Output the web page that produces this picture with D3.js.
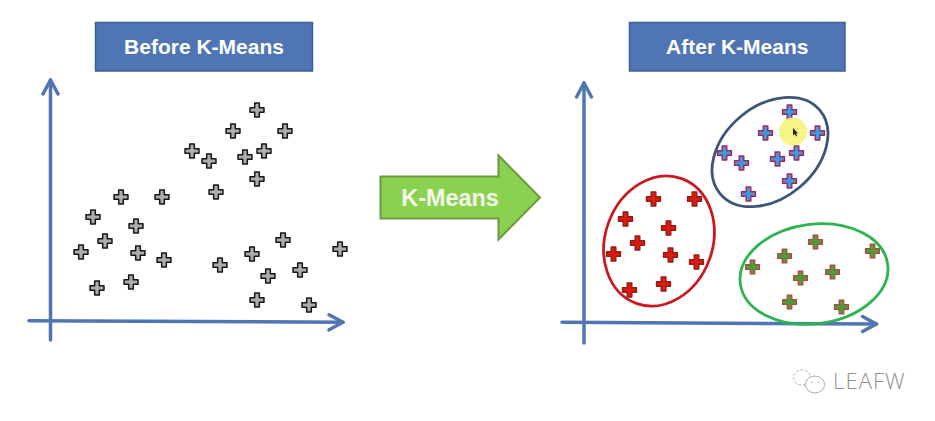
<!DOCTYPE html>
<html>
<head>
<meta charset="utf-8">
<script src="https://cdn.jsdelivr.net/npm/d3@7"></script>
<style>
  html, body { margin: 0; background: #fff; }
  svg { display: block; }
  text { font-family: "Liberation Sans", Arial, sans-serif; }
</style>
</head>
<body>
<svg id="chart" width="935" height="421"></svg>
<script>
const redPoints = [[71, 124], [112, 124], [43, 104], [86, 95], [55, 80], [31, 69], [88, 68], [114, 61], [47, 33], [81, 39]];
const bluePoints = [[207, 211], [183, 190], [235, 190], [142, 170], [159, 160], [195, 164], [214, 170], [207, 142], [166, 129]];
const greenPoints = [[170, 56], [202, 67], [233, 81], [290, 72], [250, 51], [218, 45], [207, 21], [259, 16]];

const beforeTitle = 'Before K-Means';
const afterTitle = 'After K-Means';
const arrowLabel = 'K-Means';

// ellipses: centre and semi axes in the same units, rotation in degrees
const redCluster = { cx: 76.5, cy: 82, a: 53.7, b: 66.4, angle: 20 };
const blueCluster = { cx: 187.5, cy: 171, a: 65, b: 46, angle: -40 };
const greenCluster = { cx: 231.5, cy: 49, a: 74.3, b: 49.8, angle: -7.4 };

const axisBlue = '#4f75b3';
const svg = d3.select('#chart');

function makePanel(originX, originY) {
    return {
        x: d3.scaleLinear().domain([0, 300]).range([originX, originX + 300]),
        y: d3.scaleLinear().domain([0, 300]).range([originY, originY - 300])
    };
}

const left = makePanel(50, 321);
const right = makePanel(582.5, 323);

function drawTitle(x0, x1, label) {
    svg.append('rect')
        .attr('x', x0).attr('y', 22.5)
        .attr('width', x1 - x0).attr('height', 48.5)
        .attr('fill', '#4f75b5')
        .attr('stroke', '#3c5f93')
        .attr('stroke-width', 1.5);
    svg.append('text')
        .attr('x', (x0 + x1) / 2).attr('y', 54)
        .attr('text-anchor', 'middle')
        .attr('font-size', 21)
        .attr('font-weight', 'bold')
        .attr('fill', '#fff')
        .text(label);
}

function drawAxes(ax) {
    const line = d3.line();
    const g = svg.append('g')
        .attr('fill', 'none')
        .attr('stroke', axisBlue)
        .attr('stroke-width', 3.5)
        .attr('stroke-linecap', 'round')
        .attr('stroke-linejoin', 'round');
    g.append('path').attr('d', line([[ax.vx, ax.vBottom], [ax.vx, ax.vTop]]));
    g.append('path').attr('d', line([[ax.vx - 7.5, ax.vTop + 14], [ax.vx, ax.vTop], [ax.vx + 7.5, ax.vTop + 14]]));
    g.append('path').attr('d', line([[ax.hLeft, ax.hY0], [ax.hRight, ax.hY1]]));
    g.append('path').attr('d', line([[ax.hRight - 14, ax.hY1 - 7.5], [ax.hRight, ax.hY1], [ax.hRight - 14, ax.hY1 + 7.5]]));
}

function drawEllipse(panel, e, color) {
    const cx = panel.x(e.cx);
    const cy = panel.y(e.cy);
    svg.append('ellipse')
        .attr('cx', cx).attr('cy', cy)
        .attr('rx', e.a).attr('ry', e.b)
        .attr('transform', `rotate(${e.angle} ${cx} ${cy})`)
        .attr('fill', 'none')
        .attr('stroke', color)
        .attr('stroke-width', 2.8);
}

const cross = d3.symbol().type(d3.symbolCross).size(108);

function drawPoints(panel, points, fill, stroke, strokeWidth) {
    svg.append('g').selectAll('path')
        .data(points)
        .join('path')
        .attr('d', cross)
        .attr('transform', d => `translate(${panel.x(d[0])},${panel.y(d[1])})`)
        .attr('fill', fill)
        .attr('stroke', stroke)
        .attr('stroke-width', strokeWidth)
        .attr('stroke-linejoin', 'round');
}

// left panel
drawTitle(95.5, 312.5, beforeTitle);
drawAxes({ vx: 50.5, vTop: 80, vBottom: 340, hLeft: 29, hRight: 343, hY0: 320.7, hY1: 322.3 });
[redPoints, bluePoints, greenPoints].forEach(p => drawPoints(left, p, '#adadad', '#161616', 1.5));

// middle arrow
const arrowX = d3.scaleLinear().domain([0, 1]).range([380.5, 540]);
const arrowY = d3.scaleLinear().domain([0, 1]).range([155.5, 239.5]);
const arrowShape = [[0, 0.25], [0.74, 0.25], [0.74, 0], [1, 0.5], [0.74, 1], [0.74, 0.75], [0, 0.75]];
svg.append('path')
    .attr('d', d3.line().x(d => arrowX(d[0])).y(d => arrowY(d[1])).curve(d3.curveLinearClosed)(arrowShape))
    .attr('fill', '#8ad14f')
    .attr('stroke', '#6a9a3d')
    .attr('stroke-width', 2);
svg.append('text')
    .attr('x', 450).attr('y', 206)
    .attr('text-anchor', 'middle')
    .attr('font-size', 23.4)
    .attr('font-weight', 'bold')
    .attr('fill', '#f4fbec')
    .text(arrowLabel);

// right panel
drawTitle(629.5, 845, afterTitle);
drawAxes({ vx: 584, vTop: 83, vBottom: 343, hLeft: 562, hRight: 876.5, hY0: 322.3, hY1: 324 });
drawEllipse(right, redCluster, '#c8191f');
drawEllipse(right, blueCluster, '#3d5578');
drawEllipse(right, greenCluster, '#2db34f');
drawPoints(right, redPoints, '#dc1a0e', '#8f1c16', 1.4);
drawPoints(right, bluePoints, '#3b9bdc', '#a8235a', 1.4);
drawPoints(right, greenPoints, '#4f9a3a', '#b8433a', 1.2);

// cursor highlight
svg.append('circle')
    .attr('cx', 793).attr('cy', 131.5).attr('r', 14)
    .attr('fill', '#f7f482')
    .attr('opacity', 0.95);
svg.append('path')
    .attr('transform', 'translate(793,128)')
    .attr('d', d3.line()([[0, 0], [0, 7.5], [1.7, 6], [3.2, 8.5], [4.2, 8], [3, 5.5], [5, 5.2]]))
    .attr('fill', '#222');

// watermark
const mark = svg.append('g')
    .attr('fill', 'none')
    .attr('stroke', '#b5b5b5')
    .attr('stroke-width', 1);
mark.append('ellipse')
    .attr('cx', 802).attr('cy', 377.5).attr('rx', 8.5).attr('ry', 7.5)
    .attr('stroke-dasharray', '3 1.5');
mark.append('ellipse')
    .attr('cx', 815).attr('cy', 384.5).attr('rx', 9.5).attr('ry', 8.5)
    .attr('fill', '#fff')
    .attr('stroke', '#a8a8a8');
mark.selectAll('circle')
    .data([811.5, 818.5])
    .join('circle')
    .attr('cx', d => d).attr('cy', 382.5).attr('r', 0.7)
    .attr('fill', '#999').attr('stroke', 'none');
svg.append('text')
    .attr('x', 833).attr('y', 389)
    .attr('font-size', 22)
    .attr('font-weight', 300)
    .attr('letter-spacing', 1.1)
    .attr('fill', '#8f8f8f')
    .style('font-family', '"Open Sans", "Liberation Sans", sans-serif')
    .text('LEAFW');
</script>
</body>
</html>
